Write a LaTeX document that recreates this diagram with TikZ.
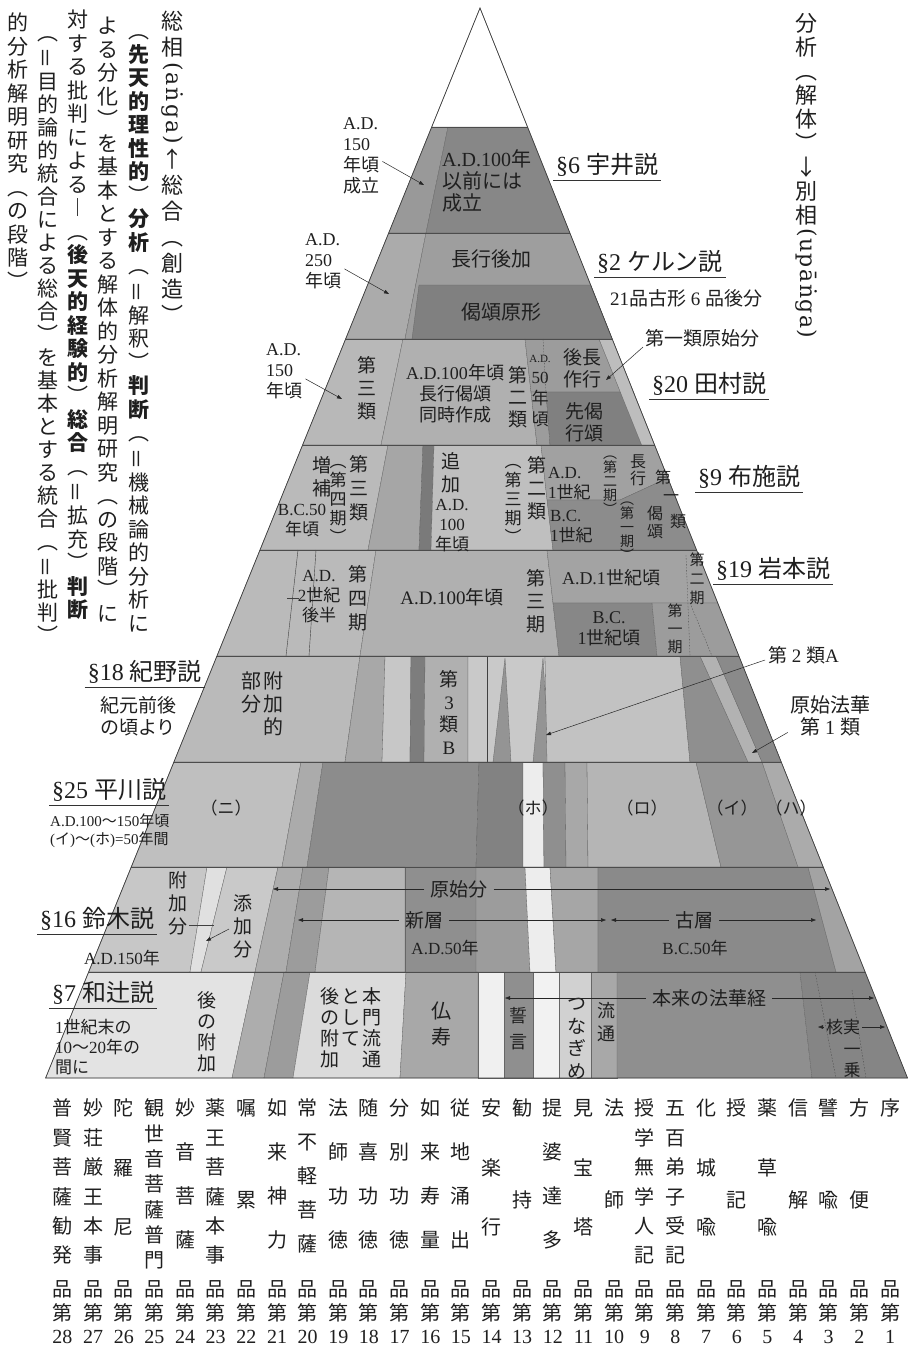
\documentclass[tikz,border=0pt]{standalone}
\usepackage{fontspec}
\usepackage{graphicx}
\usetikzlibrary{arrows.meta,calc}
\setmainfont{Liberation Serif}
\newfontfamily\cjk{Noto Sans CJK JP}
\newfontfamily\dvs{DejaVu Serif}
\makeatletter
\XeTeXinterchartokenstate=1
\chardef\CJKcls=100
\def\setcjkrange#1#2{\count@=#1\relax
  \loop\XeTeXcharclass\count@=\CJKcls\relax
  \ifnum\count@<#2\relax\advance\count@\@ne\repeat}
\setcjkrange{"2190}{"21FF}
\setcjkrange{"3000}{"9FFF}
\setcjkrange{"FE30}{"FE4F}
\setcjkrange{"FF00}{"FFEF}
\XeTeXinterchartoks 0 \CJKcls = {\begingroup\cjk}
\XeTeXinterchartoks 4095 \CJKcls = {\begingroup\cjk}
\XeTeXinterchartoks \CJKcls 0 = {\endgroup}
\XeTeXinterchartoks \CJKcls 4095 = {\endgroup}
\XeTeXinterchartoks 1 \CJKcls = {\begingroup\cjk}
\XeTeXinterchartoks 2 \CJKcls = {\begingroup\cjk}
\XeTeXinterchartoks 3 \CJKcls = {\begingroup\cjk}
\XeTeXinterchartoks \CJKcls 1 = {\endgroup}
\XeTeXinterchartoks \CJKcls 2 = {\endgroup}
\XeTeXinterchartoks \CJKcls 3 = {\endgroup}
\newcommand\tatestrut{\vrule height .88em depth .12em width 0pt}
\newcommand\tate[2]{\vtop{\offinterlineskip\@tfor\tate@c:=#2\do{\hbox to 1em{\hss\tatestrut\tate@c\hss}\kern#1}}}
\newcommand\tateE[2]{\expandafter\tate@E\expandafter{#2}{#1}}
\def\tate@E#1#2{\tate{#2}{#1}}
\makeatother
\newcommand\Bd[1]{{\bfseries #1}}
\newcommand\eqv{\rotatebox[origin=c]{90}{＝}}
\newcommand\rotL[1]{\rotatebox[origin=c]{-90}{#1}}
\begin{document}
\begin{tikzpicture}[x=1pt,y=-1pt,
  T/.style={inner sep=0pt, text=black!88},
  rg/.style={draw=black!60, line width=.3pt},
  arw/.style={-{Triangle[length=5pt,width=3.6pt]}, line width=.5pt, draw=black!85},
  dsh/.style={dashed, dash pattern=on 1.5pt off 1.5pt, line width=.35pt, draw=black!70},
  ul/.style={line width=.6pt, draw=black!80},
  thin/.style={line width=.4pt, draw=black!75},
  f24/.style={T, font=\fontsize{24}{27}\selectfont},
  f22/.style={T, font=\fontsize{22}{22}\selectfont},
  f21/.style={T, font=\fontsize{21}{21}\selectfont},
  f20/.style={T, font=\fontsize{20}{22}\selectfont},
  f19/.style={T, font=\fontsize{19}{22}\selectfont},
  f18/.style={T, font=\fontsize{18}{21}\selectfont},
  f17/.style={T, font=\fontsize{17}{20}\selectfont},
  f16/.style={T, font=\fontsize{16}{18}\selectfont},
  f15/.style={T, font=\fontsize{15}{18}\selectfont},
  f14/.style={T, font=\fontsize{14}{14}\selectfont},
]
\fill[white] (0,0) rectangle (909,1358);
\useasboundingbox (0,0) rectangle (909,1358);

% ---------- band 1 ----------
\path[rg, fill=black!40] (431.7,127) -- (448,127) -- (426,233) -- (388.7,233) -- cycle;
\path[rg, fill=black!47] (448,127) -- (527.5,127) -- (569.9,233) -- (426,233) -- cycle;
% ---------- band 2 ----------
\path[rg, fill=black!33] (388.7,233) -- (426,233) -- (405,339) -- (345.6,339) -- cycle;
\path[rg, fill=black!38] (426,233) -- (569.9,233) -- (612.2,339) -- (405,339) -- cycle;
\path[rg, fill=black!50] (419,285) -- (590.7,285) -- (612.2,339) -- (412,339) -- cycle;
% ---------- band 3 ----------
\path[rg, fill=black!28] (345.6,339) -- (403,339) -- (381,445) -- (302.6,445) -- cycle;
\path[rg, fill=black!31] (403,339) -- (525,339) -- (537,445) -- (381,445) -- cycle;
\path[rg, fill=black!39] (525,339) -- (599,339) -- (620.4,392) -- (531,392) -- cycle;
\path[rg, fill=black!39] (531,392) -- (546,392) -- (550,445) -- (537,445) -- cycle;
\path[rg, fill=black!50] (546,392) -- (620.4,392) -- (641.6,445) -- (550,445) -- cycle;
\path[rg, fill=black!26] (599,339) -- (612.2,339) -- (654.6,445) -- (641.6,445) -- cycle;
\draw[dsh] (543,339) -- (546,392);
% ---------- band 4 ----------
\path[rg, fill=black!27] (302.6,445) -- (388,445) -- (368,550) -- (260,550) -- cycle;
\path[rg, fill=black!35] (388,445) -- (423,445) -- (419,550) -- (368,550) -- cycle;
\path[rg, fill=black!52] (423,445) -- (434,445) -- (431,550) -- (419,550) -- cycle;
\path[rg, fill=black!25] (434,445) -- (541,445) -- (553,550) -- (431,550) -- cycle;
\path[rg, fill=black!37] (541,445) -- (654.6,445) -- (667.8,478) -- (620,500) -- (547,500) -- cycle;
\path[rg, fill=black!45] (547,500) -- (620,500) -- (667.8,478) -- (696.5,550) -- (553,550) -- cycle;
% ---------- band 5 ----------
\path[rg, fill=black!27] (260,550) -- (376,550) -- (360,656) -- (217,656) -- cycle;
\draw[thin] (298,550) -- (286,656);
\draw[thin] (316,550) -- (309,656);
\path[rg, fill=black!31] (376,550) -- (547,550) -- (559,656) -- (360,656) -- cycle;
\path[rg, fill=black!36] (547,550) -- (696.5,550) -- (717.7,603) -- (553,603) -- cycle;
\path[rg, fill=black!47] (553,603) -- (652,603) -- (657,656) -- (559,656) -- cycle;
\path[rg, fill=black!39] (652,603) -- (717.7,603) -- (738.9,656) -- (657,656) -- cycle;
\draw[dsh] (686,555) -- (690,656);
\draw[dsh] (690,603) -- (712,656);
% ---------- band 6 ----------
\path[rg, fill=black!27] (217,656) -- (360,656) -- (345,762) -- (173.9,762) -- cycle;
\path[rg, fill=black!34] (360,656) -- (385,656) -- (382,762) -- (345,762) -- cycle;
\path[rg, fill=black!22] (385,656) -- (411,656) -- (410,762) -- (382,762) -- cycle;
\path[rg, fill=black!51] (411,656) -- (425,656) -- (424,762) -- (410,762) -- cycle;
\path[rg, fill=black!31] (425,656) -- (468,656) -- (468,762) -- (424,762) -- cycle;
\path[rg, fill=black!21] (468,656) -- (545,656) -- (547,762) -- (468,762) -- cycle;
\draw[thin] (487,656) -- (487,762);
\path[rg, fill=black!42] (505,658) -- (511,762) -- (493,762) -- cycle;
\path[rg, fill=black!42] (543,658) -- (549,762) -- (533,762) -- cycle;
\path[rg, fill=black!24] (545,656) -- (680,656) -- (690,762) -- (547,762) -- cycle;
\path[rg, fill=black!44] (680,656) -- (700,656) -- (748,762) -- (690,762) -- cycle;
\path[rg, fill=black!30] (700,656) -- (716,656) -- (762,762) -- (748,762) -- cycle;
\path[rg, fill=black!46] (716,656) -- (738.9,656) -- (781.2,762) -- (762,762) -- cycle;
% ---------- band 7 ----------
\path[rg, fill=black!25] (173.9,762) -- (301,762) -- (282,867) -- (131.2,867) -- cycle;
\path[rg, fill=black!33] (301,762) -- (323,762) -- (307,867) -- (282,867) -- cycle;
\path[rg, fill=black!45] (323,762) -- (479,762) -- (476,867) -- (307,867) -- cycle;
\path[rg, fill=black!49] (479,762) -- (523,762) -- (523,867) -- (476,867) -- cycle;
\path[rg, fill=black!7] (523,762) -- (543,762) -- (544,867) -- (523,867) -- cycle;
\path[rg, fill=black!44] (543,762) -- (565,762) -- (566,867) -- (544,867) -- cycle;
\path[rg, fill=black!34] (565,762) -- (587,762) -- (588,867) -- (566,867) -- cycle;
\path[rg, fill=black!29] (587,762) -- (696,762) -- (721,867) -- (588,867) -- cycle;
\path[rg, fill=black!41] (696,762) -- (762,762) -- (798,867) -- (721,867) -- cycle;
\path[rg, fill=black!33] (762,762) -- (781.2,762) -- (823.2,867) -- (798,867) -- cycle;
% ---------- band 8 ----------
\path[rg, fill=black!22] (131.2,867) -- (207,867) -- (190,972) -- (88.6,972) -- cycle;
\path[rg, fill=black!12] (207,867) -- (227,867) -- (201,972) -- (190,972) -- cycle;
\path[rg, fill=black!21] (227,867) -- (278,867) -- (255,972) -- (201,972) -- cycle;
\path[rg, fill=black!32] (278,867) -- (303,867) -- (286,972) -- (255,972) -- cycle;
\path[rg, fill=black!39] (303,867) -- (329,867) -- (315,972) -- (286,972) -- cycle;
\path[rg, fill=black!29] (329,867) -- (405,867) -- (405,972) -- (315,972) -- cycle;
\path[rg, fill=black!44] (405,867) -- (476,867) -- (476,972) -- (405,972) -- cycle;
\path[rg, fill=black!39] (476,867) -- (525,867) -- (530,972) -- (476,972) -- cycle;
\path[rg, fill=black!7] (525,867) -- (550,867) -- (556,972) -- (530,972) -- cycle;
\path[rg, fill=black!35] (550,867) -- (598,867) -- (598,972) -- (556,972) -- cycle;
\path[rg, fill=black!46] (598,867) -- (808,867) -- (836,972) -- (598,972) -- cycle;
\path[rg, fill=black!36] (808,867) -- (823.2,867) -- (865.1,972) -- (836,972) -- cycle;
% ---------- band 9 ----------
\path[rg, fill=black!11] (88.6,972) -- (255,972) -- (232,1078) -- (45.6,1078) -- cycle;
\path[rg, fill=black!32] (255,972) -- (284,972) -- (264,1078) -- (232,1078) -- cycle;
\path[rg, fill=black!39] (284,972) -- (310,972) -- (293,1078) -- (264,1078) -- cycle;
\path[rg, fill=black!14] (310,972) -- (406,972) -- (400,1078) -- (293,1078) -- cycle;
\path[rg, fill=black!34] (406,972) -- (478,972) -- (478,1078) -- (400,1078) -- cycle;
\path[rg, fill=black!6] (478,972) -- (504,972) -- (504,1078) -- (478,1078) -- cycle;
\path[rg, fill=black!44] (504,972) -- (533,972) -- (533,1078) -- (504,1078) -- cycle;
\path[rg, fill=black!5] (533,972) -- (559,972) -- (559,1078) -- (533,1078) -- cycle;
\path[rg, fill=black!18] (559,972) -- (591,972) -- (591,1078) -- (559,1078) -- cycle;
\path[rg, fill=black!34] (591,972) -- (617,972) -- (617,1078) -- (591,1078) -- cycle;
\path[rg, fill=black!44] (617,972) -- (800,972) -- (812,1078) -- (617,1078) -- cycle;
\path[rg, fill=black!48] (800,972) -- (865.1,972) -- (907.5,1078) -- (812,1078) -- cycle;
\draw[dsh] (815,972) -- (836,1078);
\draw[dsh] (852,990) -- (866,1078);
% ---------- top and outline ----------
\path[rg, fill=white] (480,8) -- (527.5,127) -- (431.7,127) -- cycle;
\foreach \yy/\xl/\xr in {127/431.7/527.5, 233/388.7/569.9, 339/345.6/612.2, 445/302.6/654.6, 550/260/696.5, 656/217/738.9, 762/173.9/781.2, 867/131.2/823.2, 972/88.6/865.1}
  \draw[black!70, line width=.6pt] (\xl,\yy) -- (\xr,\yy);
\draw[black!75, line width=.7pt] (480,8) -- (907.5,1078) -- (45.6,1078) -- cycle;

% ---------- left vertical text ----------
\node[f22, anchor=north] (c1) at (172,10) {\tate{4pt}{総相{\rotL{\dvs(\kern2pt a\kern2pt ṅ\kern2pt g\kern2pt a\kern2pt)}}↑総合︵創造︶}};
\node[f21, anchor=north] (c2) at (139,20) {\tate{2.5pt}{︵{\Bd{先}}{\Bd{天}}{\Bd{的}}{\Bd{理}}{\Bd{性}}{\Bd{的}}︶{\Bd{分}}{\Bd{析}}︵\eqv 解釈︶{\Bd{判}}{\Bd{断}}︵\eqv 機械論的分析に}};
\node[f21, anchor=north] (c3) at (108,15) {\tate{2.5pt}{よる分化︶を基本とする解体的分析解明研究︵の段階︶に}};
\node[f21, anchor=north] (c4) at (78,9) {\tate{2.5pt}{対する批判による︱︵{\Bd{後}}{\Bd{天}}{\Bd{的}}{\Bd{経}}{\Bd{験}}{\Bd{的}}︶{\Bd{総}}{\Bd{合}}︵\eqv 拡充︶{\Bd{判}}{\Bd{断}}}};
\node[f21, anchor=north] (c5) at (48,22) {\tate{2pt}{︵\eqv 目的論的統合による総合︶を基本とする統合︵\eqv 批判︶}};
\node[f21, anchor=north] (c6) at (18,12) {\tate{2.5pt}{的分析解明研究︵の段階︶}};
% right vertical text
\node[f22, anchor=north] (c7) at (806,12) {\tate{2pt}{分析︵解体︶↓別相{\rotL{\dvs(\kern1.5pt u\kern1.5pt p\kern1.5pt ā\kern1.5pt ṅ\kern1.5pt g\kern1.5pt a\kern1.5pt)}}}};

% ---------- right labels ----------
\node[f24, anchor=west] (u6) at (556,165) {§6 宇井説};
\node[f24, anchor=west] (u2) at (597,262) {§2 ケルン説};
\node[f19, anchor=west] (k21) at (610,298) {21品古形 6 品後分};
\node[f19, anchor=west] (k1) at (645,338) {第一類原始分};
\node[f24, anchor=west] (u20) at (652,384) {§20 田村説};
\node[f24, anchor=west] (u9) at (698,477) {§9 布施説};
\node[f24, anchor=west] (u19) at (716,569) {§19 岩本説};
\node[f19, anchor=west] (k2) at (768,655) {第 2 類A};
\node[f20, align=center] (k3) at (830,716) {原始法華\\第 1 類};
\coordinate (k1t) at (606,380);
\coordinate (k2t) at (546,735);
\coordinate (k3t) at (752,753);
\draw[arw] ($(k1.south west)+(-2,0)$) -- (k1t);
\draw[arw] ($(k2.west)+(-3,5)$) -- (k2t);
\draw[arw] ($(k3.south west)+(-2,-4)$) -- (k3t);

% ---------- left labels ----------
\node[f24, anchor=east] (u18) at (202,672) {§18 紀野説};
\node[f19, align=center] (k18) at (138,716) {紀元前後\\の頃より};
\node[f24, anchor=west] (u25) at (52,790) {§25 平川説};
\node[f15, align=left, anchor=north west] (k25) at (50,814) {A.D.100〜150年頃\\(イ)〜(ホ)=50年間};
\node[f24, anchor=west] (u16) at (40,919) {§16 鈴木説};
\node[f24, anchor=west] (u7) at (52,993) {§7 和辻説};
\node[f17, align=left, anchor=west] (k7) at (55,1047) {1世紀末の\\10〜20年の\\間に};
\foreach \u in {u6,u2,u20,u9,u19,u18,u25,u16,u7}
  \draw[ul] ($(\u.south west)+(-3,3)$) -- ($(\u.south east)+(3,3)$);

% date labels with arrows
\node[f18, align=left, anchor=north west] (a1) at (343,117) {A.D.\\150\\年頃\\成立};
\node[f18, align=left, anchor=north west] (a2) at (305,233) {A.D.\\250\\年頃};
\node[f18, align=left, anchor=north west] (a3) at (266,343) {A.D.\\150\\年頃};
\coordinate (a1t) at (424,185);
\coordinate (a2t) at (389,294);
\coordinate (a3t) at (342,399);
\draw[arw] ($(a1.east)+(3,6)$) -- (a1t);
\draw[arw] ($(a2.east)+(3,8)$) -- (a2t);
\draw[arw] ($(a3.east)+(3,8)$) -- (a3t);

% ---------- band texts ----------
\node[f20, align=left, anchor=north west] (b1) at (442,149) {A.D.100年\\以前には\\成立};
\node[f20] (b2a) at (491,259) {長行後加};
\node[f20] (b2b) at (501,312) {偈頌原形};
% band 3
\node[f19, anchor=north] (v3a) at (367,356) {\tate{4pt}{第三類}};
\node[f18, align=center] (b3) at (455,394) {A.D.100年頃\\長行偈頌\\同時作成};
\node[f19, anchor=north] (v3b) at (518,366) {\tate{3pt}{第二類}};
\node[f17, anchor=north] (v3c) at (540,347) {\tate{4pt}{{\fontsize{11}{11}\selectfont A.D.}{50}年頃}};
\node[f19, align=center] (h3a) at (582,368) {後長\\作行};
\node[f19, align=center] (h3b) at (584,422) {先偈\\行頌};
% band 4
\node[f19, anchor=north] (v4a) at (322,456) {\tate{4pt}{増補}};
\node[f17, align=center] (h4a) at (302,521) {B.C.50\\年頃};
\node[f17, anchor=north] (v4b) at (338,452) {\tate{2pt}{︵第四期︶}};
\node[f19, anchor=north] (v4c) at (359,455) {\tate{5pt}{第三類}};
\node[f19, anchor=north] (v4d) at (451,452) {\tate{4pt}{追加}};
\node[f17, align=center] (h4b) at (452,526) {A.D.\\100\\年頃};
\node[f17, anchor=north] (v4e) at (513,452) {\tate{2pt}{︵第三期︶}};
\node[f19, anchor=north] (v4f) at (537,456) {\tate{4pt}{第二類}};
\node[f17, align=left, anchor=west] (h4c) at (548,484) {A.D.\\1世紀};
\node[f17, align=left, anchor=west] (h4d) at (550,527) {B.C.\\1世紀};
\node[f14, anchor=north] (v4g) at (610,446) {\tate{0pt}{︵第二期︶}};
\node[f16, anchor=north] (v4h) at (638,453) {\tate{1pt}{長行}};
\node[f14, anchor=north] (v4i) at (627,492) {\tate{0pt}{︵第一期︶}};
\node[f16, anchor=north] (v4j) at (655,505) {\tate{2pt}{偈頌}};
\node[f16] (s4a) at (663,477) {第};
\node[f16] (s4b) at (671,498) {一};
\node[f16] (s4c) at (678,521) {類};
% band 5
\draw[thin] (287,598) -- (299,598);
\node[f17, align=center] (h5a) at (319,597) {A.D.\\2世紀\\後半};
\node[f19, anchor=north] (v5a) at (358,565) {\tate{5pt}{第四期}};
\node[f19] (h5b) at (452,597) {A.D.100年頃};
\node[f19, anchor=north] (v5b) at (536,569) {\tate{4pt}{第三期}};
\node[f18] (h5c) at (611,578) {A.D.1世紀頃};
\node[f15, anchor=north] (v5c) at (697,552) {\tate{4pt}{第二期}};
\node[f18, align=center] (h5d) at (609,629) {B.C.\\1世紀頃};
\node[f15, anchor=north] (v5d) at (675,603) {\tate{3pt}{第一期}};
% band 6
\node[f20, anchor=north] (v6a) at (273,671) {\tate{3pt}{附加的}};
\node[f20, anchor=north] (v6b) at (251,671) {\tate{3pt}{部分}};
\node[f19, anchor=north] (v6c) at (449,670) {\tate{3.5pt}{第3類B}};
% band 7
\node[f17] (p1) at (226,808) {（ニ）};
\node[f17] (p2) at (533,808) {（ホ）};
\node[f17] (p3) at (642,808) {（ロ）};
\node[f17] (p4) at (732,808) {（イ）};
\node[f17] (p5) at (791,808) {（ハ）};
% band 8
\node[f19, anchor=north] (v8a) at (178,871) {\tate{4pt}{附加分}};
\node[f19, anchor=north] (v8b) at (243,894) {\tate{4pt}{添加分}};
\coordinate (fl1) at (189,925);
\coordinate (fl2) at (214,925);
\draw[thin] (fl1) -- (fl2);
\coordinate (sa1) at (229,929);
\coordinate (sa2) at (206,941);
\draw[arw] (sa1) -- (sa2);
\node[f17] (h8a) at (122,958) {A.D.150年};
\node[f19] (og) at (459,889) {原始分};
\node[f19] (sn) at (424,920) {新層};
\node[f19] (ko) at (694,920) {古層};
\node[f17] (h8b) at (445,948) {A.D.50年};
\node[f17] (h8c) at (695,948) {B.C.50年};
\coordinate (og1) at (273,889);
\coordinate (og2) at (830,889);
\coordinate (sn1) at (298,920);
\coordinate (sn2) at (606,920);
\coordinate (ko1) at (611,920);
\coordinate (ko2) at (816,920);
\draw[arw] ($(og.west)+(-6,0)$) -- (og1);
\draw[arw] ($(og.east)+(6,0)$) -- (og2);
\draw[arw] ($(sn.west)+(-6,0)$) -- (sn1);
\draw[arw] ($(sn.east)+(6,0)$) -- (sn2);
\draw[arw] ($(ko.west)+(-6,0)$) -- (ko1);
\draw[arw] ($(ko.east)+(6,0)$) -- (ko2);
% band 9
\node[f19, anchor=north] (v9a) at (207,991) {\tate{2pt}{後の附加}};
\node[f19, anchor=north] (v9b) at (372,987) {\tate{2pt}{本門流通}};
\node[f19, anchor=north] (v9c) at (351,987) {\tate{2pt}{として}};
\node[f19, anchor=north] (v9d) at (330,987) {\tate{2pt}{後の附加}};
\node[f20, anchor=north] (v9e) at (441,1001) {\tate{6pt}{仏寿}};
\node[f18, anchor=north] (v9f) at (518,1006) {\tate{8pt}{誓言}};
\node[f19, anchor=north] (v9g) at (577,994) {\tate{3.5pt}{つなぎめ}};
\node[f18, anchor=north] (v9h) at (606,1001) {\tate{5pt}{流通}};
\node[f19] (hk) at (709,998) {本来の法華経};
\node[f17] (kj) at (843,1027) {核実};
\node[f17, anchor=north] (v9i) at (852,1040) {\tate{4pt}{一乗}};
\coordinate (hk1) at (505,998);
\coordinate (hk2) at (874,998);
\coordinate (kj1) at (818,1027);
\coordinate (kj2) at (885,1027);
\draw[arw] ($(hk.west)+(-6,0)$) -- (hk1);
\draw[arw] ($(hk.east)+(6,0)$) -- (hk2);
\draw[arw] ($(kj.west)+(-2,0)$) -- (kj1);
\draw[arw] ($(kj.east)+(2,0)$) -- (kj2);

% ---------- chapter titles ----------
\tikzset{chapf/.style={T, font=\fontsize{20}{20}\selectfont}}
\foreach \cn/\ct/\cg in {1/序/0, 2/方便/72, 3/譬喩/72, 4/信解/72, 5/薬草喩/39.5, 6/授記/72, 7/化城喩/39.5, 8/五百弟子受記/9.4, 9/授学無学人記/9.4, 10/法師/72, 11/見宝塔/39.5, 12/提婆達多/24, 13/勧持/72, 14/安楽行/39.5, 15/従地涌出/24, 16/如来寿量/24, 17/分別功徳/24, 18/随喜功徳/24, 19/法師功徳/24, 20/常不軽菩薩/14, 21/如来神力/24, 22/嘱累/72, 23/薬王菩薩本事/9.4, 24/妙音菩薩/24, 25/観世音菩薩普門/5.3, 26/陀羅尼/39.5, 27/妙荘厳王本事/9.4, 28/普賢菩薩勧発/9.4}
{
  \pgfmathsetmacro\cx{890-(\cn-1)*30.65}
  \node[chapf, anchor=north] (t\cn) at (\cx,1098) {\tateE{\cg pt}{\ct}};
  \node[chapf] (h\cn) at (\cx,1289) {品};
  \node[chapf] (d\cn) at (\cx,1313) {第};
  \node[chapf] (n\cn) at (\cx,1337) {\cn};
}
\end{tikzpicture}
\end{document}
